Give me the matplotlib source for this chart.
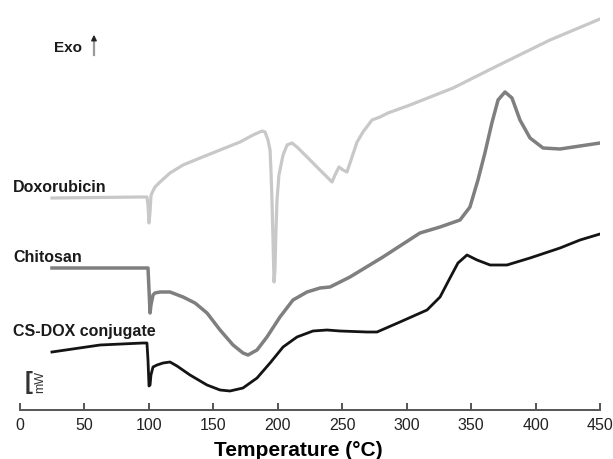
import matplotlib
matplotlib.use("Agg")
import matplotlib.pyplot as plt

plt.rcParams['font.family'] = ['Liberation Sans', 'DejaVu Sans']

# DSC curves (heat flow in arbitrary units, curves offset)
dox_T = [24.8, 93.1, 98.5, 99.3, 100.1, 100.9, 101.6, 102.4, 104.7, 108.6, 116.4,
         126.5, 139.7, 155.2, 170.7, 180.8, 187.8, 190.1, 192.4, 194.0, 194.7,
         195.5, 196.3, 197.1, 197.8, 198.6, 199.4, 200.9, 203.3, 204.1, 207.2,
         211.0, 214.9, 222.7, 230.4, 238.2, 242.1, 244.4, 247.5, 250.6, 253.7,
         257.6, 261.5, 266.1, 273.1, 279.3, 285.5, 302.6, 336.0, 370.1, 411.2,
         450.0]
dox_q = [21.2, 21.3, 21.3, 20.5, 18.7, 19.8, 21.4, 21.7, 22.3, 22.8, 23.7,
         24.5, 25.2, 26.0, 26.8, 27.5, 27.9, 27.8, 27.0, 26.0, 24.0,
         21.0, 17.0, 12.8, 14.0, 18.0, 21.0, 23.5, 25.0, 25.5, 26.5,
         26.7, 26.3, 25.3, 24.3, 23.3, 22.8, 23.5, 24.3, 24.0, 23.8,
         25.3, 26.8, 27.8, 29.0, 29.3, 29.7, 30.5, 32.2, 34.4, 37.0,
         39.1]

cs_T = [24.8, 93.1, 99.3, 100.1, 100.9, 101.6, 103.2, 104.7, 108.6, 116.4, 126.5,
        135.8, 145.1, 155.2, 165.3, 173.0, 176.9, 183.9, 191.6, 201.7, 211.8,
        222.7, 232.8, 240.5, 248.3, 256.0, 281.6, 310.3, 325.9, 341.4, 349.1,
        355.3, 360.7, 366.1, 370.9, 376.3, 381.7, 387.9, 395.7, 405.8, 419.0,
        434.5, 450.0]
cs_q = [14.2, 14.2, 14.2, 12.0, 9.7, 10.5, 11.5, 11.7, 11.8, 11.8, 11.3,
        10.7, 9.7, 8.0, 6.5, 5.7, 5.5, 6.0, 7.3, 9.3, 11.0,
        11.8, 12.2, 12.3, 12.8, 13.3, 15.3, 17.7, 18.3, 19.0, 20.3,
        23.0, 25.7, 28.7, 31.0, 31.8, 31.2, 29.0, 27.2, 26.2, 26.1,
        26.4, 26.7]

csdox_T = [24.8, 62.1, 95.4, 98.5, 99.3, 100.1, 100.9, 101.6, 103.2, 106.3, 111.0,
           116.4, 121.8, 131.9, 145.1, 155.2, 162.9, 173.0, 183.9, 194.0, 204.1,
           214.9, 227.3, 238.2, 248.3, 269.2, 277.0, 294.8, 315.8, 325.9, 333.6,
           339.8, 346.8, 354.6, 364.7, 377.8, 395.7, 419.0, 434.5, 450.0]
csdox_q = [5.8, 6.5, 6.7, 6.7, 5.0, 2.4, 2.5, 3.5, 4.3, 4.5, 4.7,
           4.8, 4.4, 3.5, 2.5, 2.0, 1.9, 2.2, 3.2, 4.7, 6.3,
           7.3, 7.9, 8.0, 7.9, 7.8, 7.8, 8.8, 10.0, 11.3, 13.2,
           14.7, 15.5, 15.0, 14.5, 14.5, 15.2, 16.2, 17.0, 17.6]

xticks = [0, 50, 100, 150, 200, 250, 300, 350, 400, 450]

fig = plt.figure(figsize=(6.13, 4.59), dpi=100)
ax = fig.add_axes([20 / 613, 49 / 459, 580 / 613, 410 / 459])

ax.plot(dox_T, dox_q, color='#c8c8c8', lw=2.3, solid_joinstyle='round')
ax.plot(cs_T, cs_q, color='#7f7f7f', lw=2.5, solid_joinstyle='round')
ax.plot(csdox_T, csdox_q, color='#141414', lw=2.0, solid_joinstyle='round')

ax.set_xlim(0, 450)
ax.set_ylim(0, 41)
ax.set_xticks(xticks)
ax.set_yticks([])
for s in ['top', 'right', 'left']:
    ax.spines[s].set_visible(False)
ax.spines['bottom'].set_color('#555555')
ax.spines['bottom'].set_linewidth(1.4)
ax.tick_params(axis='x', direction='in', length=5, width=1.4, color='#555555',
               labelsize=11.5, labelcolor='#222222', pad=6)
ax.set_xlabel('Temperature (°C)', fontsize=15, fontweight='bold')
ax.xaxis.set_label_coords(0.479, -0.098)
ax.xaxis.label.set_verticalalignment('center')

lab = dict(fontsize=11.5, fontweight='bold', color='#1a1a1a', va='baseline',
           ha='left', clip_on=False)
ax.text(-5.4, 21.8, 'Doxorubicin', **lab)
ax.text(-5.4, 14.8, 'Chitosan', **lab)
ax.text(-5.4, 7.4, 'CS-DOX conjugate', **lab)

ax.text(26.4, 35.8, 'Exo', fontsize=11, fontweight='bold', color='#1a1a1a',
        va='baseline', ha='left')
ax.plot([57.4, 57.4], [35.5, 37.2], color='#9a9a9a', lw=1.6)
ax.annotate('', xy=(57.4, 37.8), xytext=(57.4, 36.9),
            arrowprops=dict(arrowstyle='-|>', color='#222222', lw=1.0,
                            mutation_scale=8))

ax.text(3.3, 2.8, '[', fontsize=17, fontweight='bold', color='#333333',
        va='center', ha='left')
ax.text(16.0, 2.8, 'mW', fontsize=9, color='#333333', va='center',
        ha='center', rotation=90)

fig.savefig('out.png', dpi=100)
